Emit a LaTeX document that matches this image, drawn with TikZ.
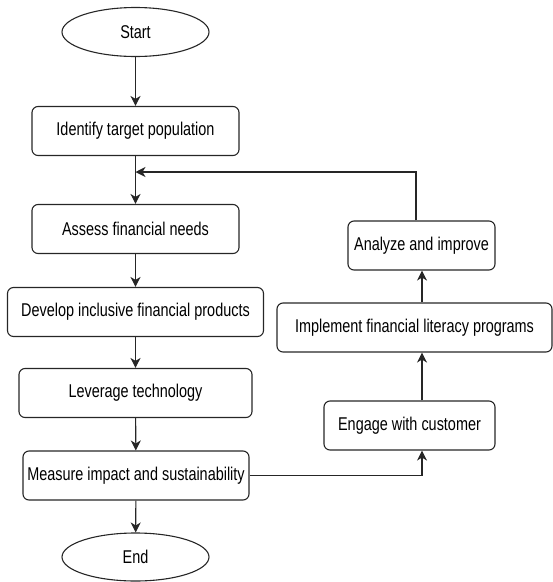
\documentclass[tikz,border=0pt]{standalone}
\usepackage{fontspec}
\setmainfont{Liberation Sans}[FakeStretch=0.78]
\usetikzlibrary{shapes.geometric,arrows.meta}
\begin{document}
\begin{tikzpicture}[x=1pt,y=-1pt,
  every node/.style={font=\fontsize{18.5pt}{21pt}\selectfont, inner sep=0pt},
  stepbox/.style={draw=black!85, line width=1.1pt, rounded corners=6pt, minimum height=49pt},
  term/.style={draw=black!85, line width=1.1pt, ellipse, minimum width=147pt, minimum height=49pt},
  conn/.style={draw=black!85, line width=1.1pt, -{Stealth[length=10pt,width=10pt,inset=3pt]}},
  line/.style={draw=black!85, line width=1.1pt}
]
\useasboundingbox (0,0) rectangle (553,582);
\node[term] (start) at (135.5,32) {Start};
\node[stepbox, minimum width=207pt] (n1) at (135.5,131) {Identify target population};
\node[stepbox, minimum width=207pt] (n2) at (135.5,229) {Assess financial needs};
\node[stepbox, minimum width=256pt] (n3) at (135.5,312) {Develop inclusive financial products};
\node[stepbox, minimum width=233pt] (n4) at (135.5,393) {Leverage technology};
\node[stepbox, minimum width=226pt] (n5) at (136,475.5) {Measure impact and sustainability};
\node[term, minimum height=48pt] (end) at (135.5,557) {End};
\node[stepbox, minimum width=171pt] (engage) at (409.5,425.5) {Engage with customer};
\node[stepbox, minimum width=275pt] (impl) at (414.5,327.5) {Implement financial literacy programs};
\node[stepbox, minimum width=147pt] (analyze) at (421.5,245.5) {Analyze and improve};
\coordinate (rx) at (422,0);
\coordinate (lx) at (416,0);
\coordinate (fb) at (135.5,172);
\draw[conn] (start) -- (n1);
\draw[conn] (n1) -- (n2);
\draw[conn] (n2) -- (n3);
\draw[conn] (n3) -- (n4);
\draw[conn] (n4) -- (n5);
\draw[conn] (n5) -- (end);
\draw[conn] (n5.east) -| (engage.south -| rx);
\draw[conn] (engage.north -| rx) -- (impl.south -| rx);
\draw[conn] (impl.north -| rx) -- (analyze.south -| rx);
\draw[conn] (analyze.north -| lx) |- (fb);
\end{tikzpicture}
\end{document}
